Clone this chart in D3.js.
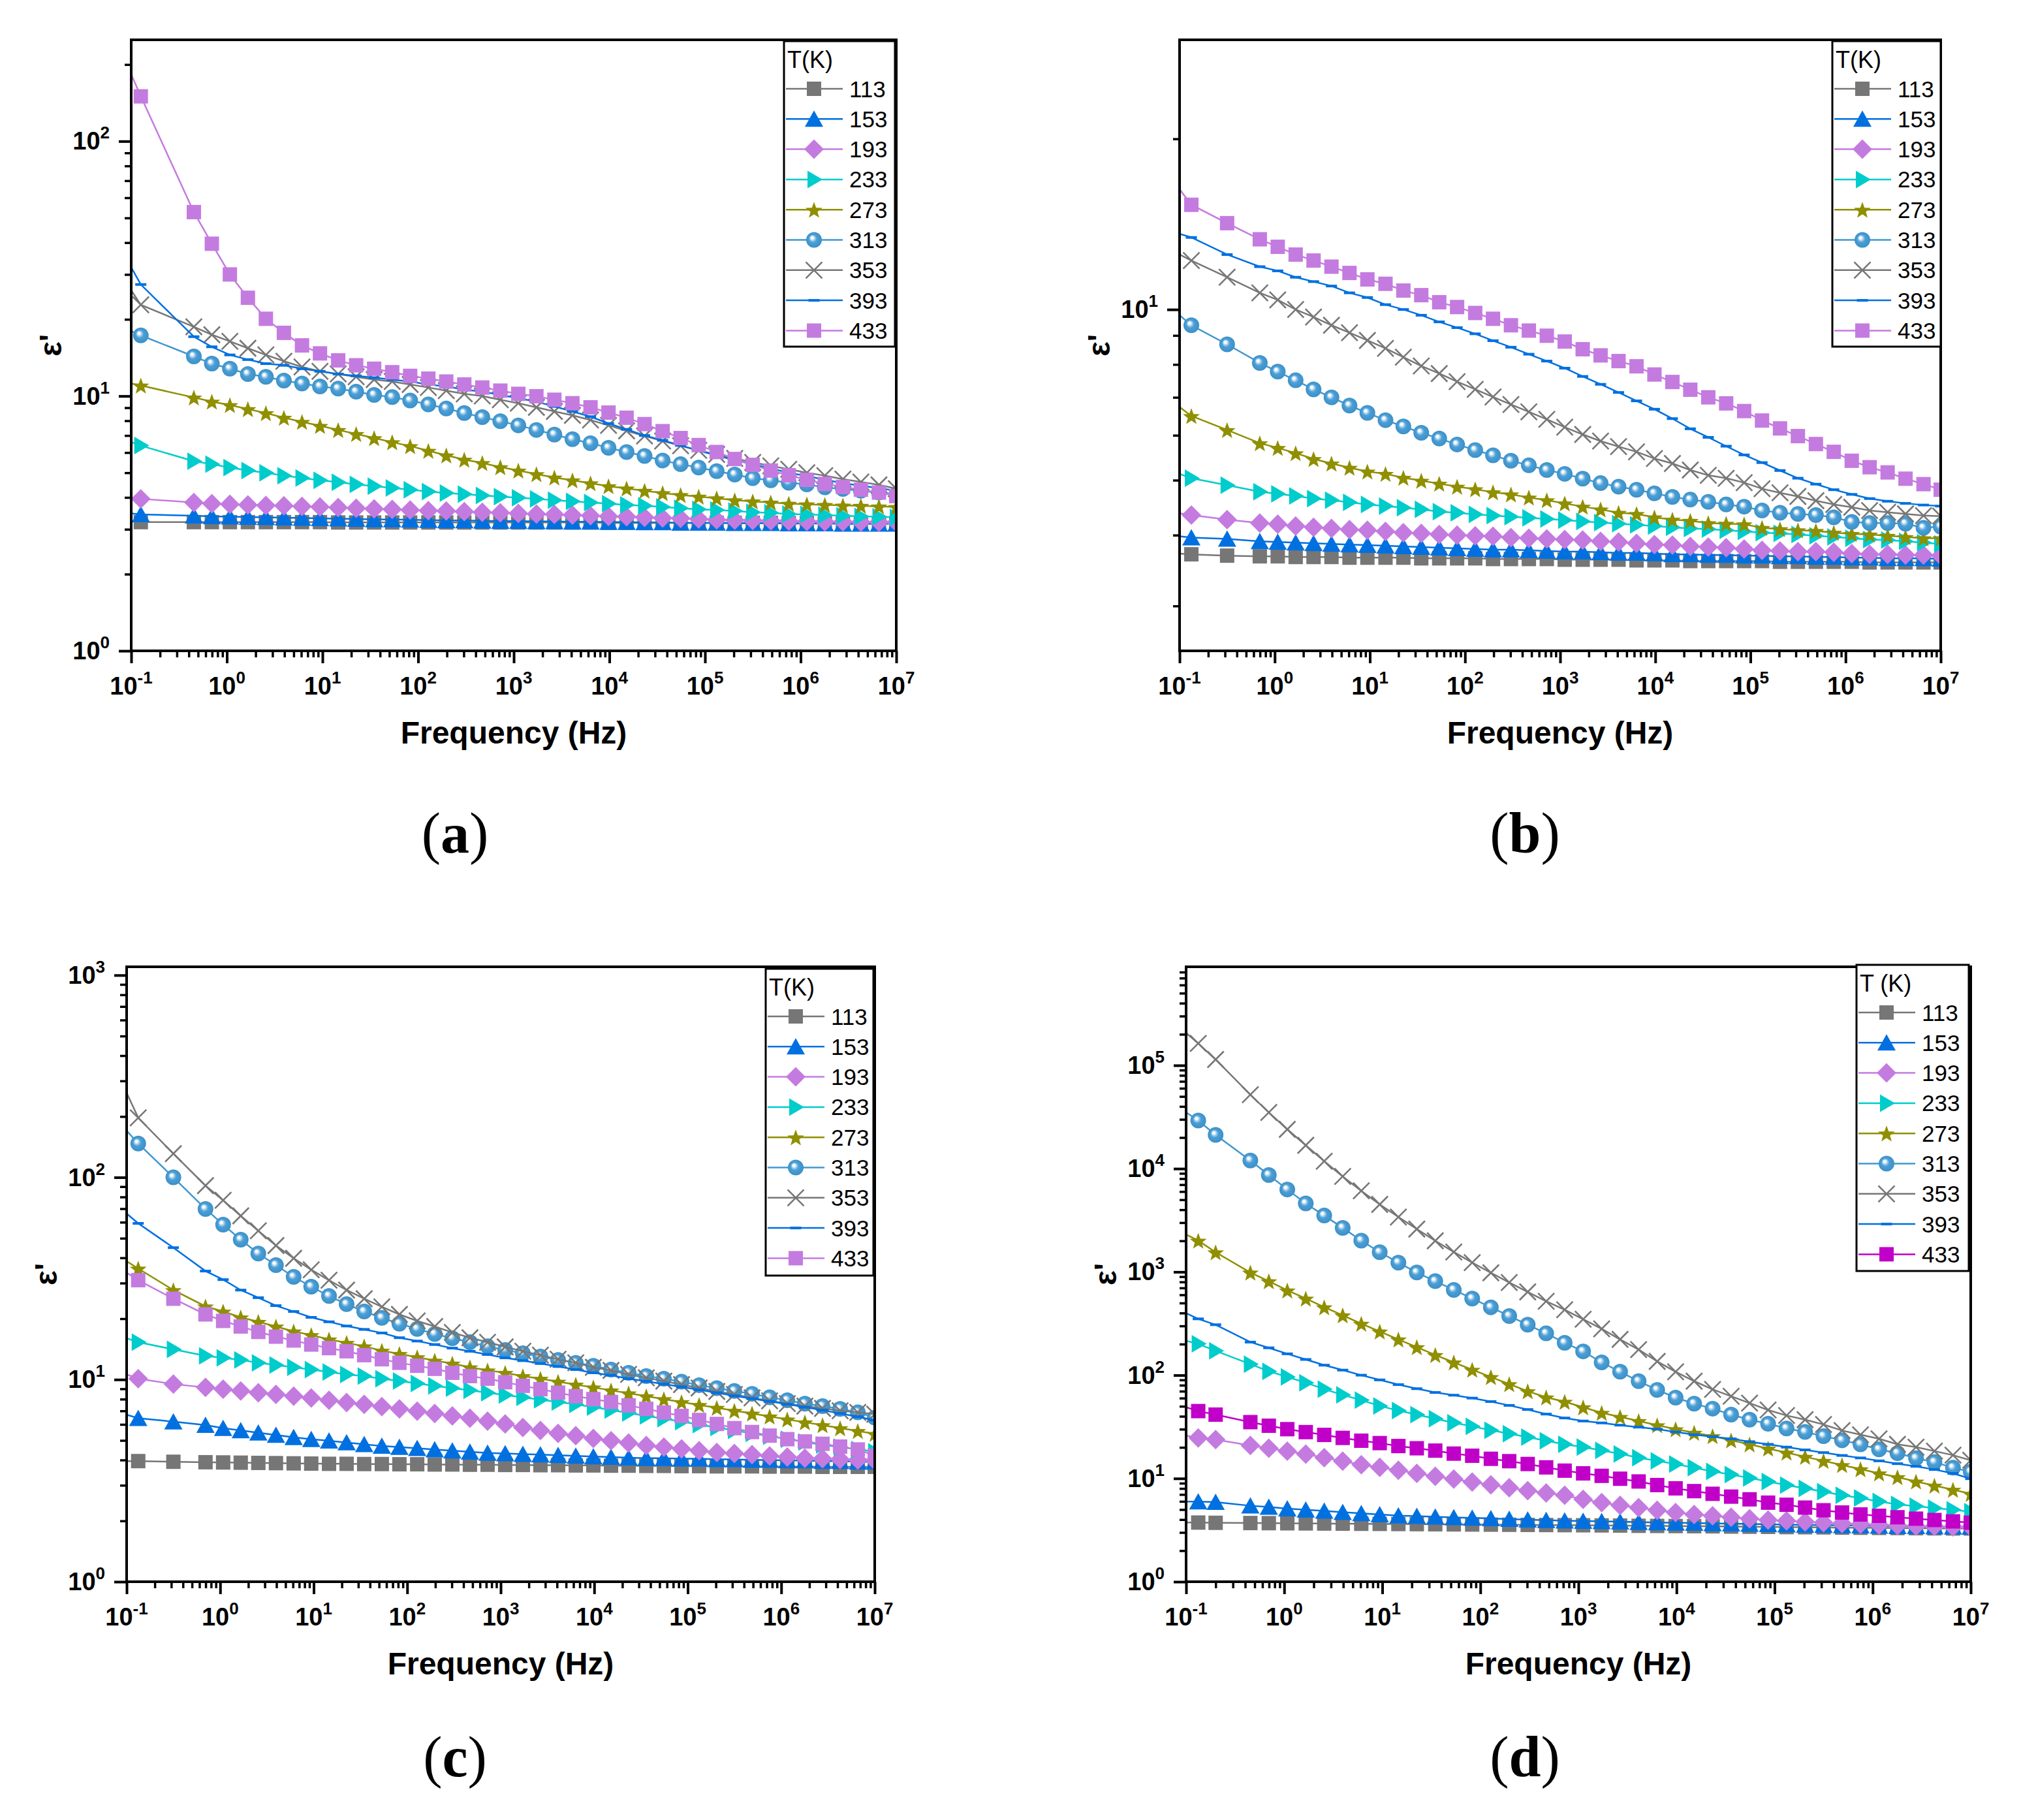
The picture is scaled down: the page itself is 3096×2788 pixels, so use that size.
<!DOCTYPE html>
<html>
<head>
<meta charset="utf-8">
<script src="https://cdn.jsdelivr.net/npm/d3@7"></script>
<style>
  body { margin: 0; background: #fff; }
  text { font-family: "Liberation Sans", Arial, sans-serif; }
</style>
</head>
<body>
<div id="chart"></div>
<script>
var width = 3096;
var height = 2788;

// temperatures (K) and the frequency points of each panel (Hz)
var temps = ["113", "153", "193", "233", "273", "313", "353", "393", "433"];

var freqA = [0.1, 0.126, 0.452, 0.697, 1.076, 1.66, 2.56, 3.95, 6.11, 9.42,
  14.6, 22.5, 34.7, 53.6, 82.6, 128, 197, 304, 469, 724,
  1117, 1726, 2661, 4111, 6353, 9795, 15136, 23335, 36058, 55590,
  85901, 132434, 204644, 315500, 487529, 751623, 1161449, 1790550, 2766942, 4265795,
  6591738, 10000000];

var freqBC = [0.1, 0.133, 0.316, 0.697, 1.076, 1.66, 2.56, 3.95, 6.11, 9.42,
  14.6, 22.5, 34.7, 53.6, 82.6, 128, 197, 304, 469, 724,
  1117, 1726, 2661, 4111, 6353, 9795, 15136, 23335, 36058, 55590,
  85901, 132434, 204644, 315500, 487529, 751623, 1161449, 1790550, 2766942, 4265795,
  6591738, 10000000];

var freqD = [0.1, 0.133, 0.2, 0.452, 0.697, 1.076, 1.66, 2.56, 3.95, 6.11,
  9.42, 14.6, 22.5, 34.7, 53.6, 82.6, 128, 197, 304, 469,
  724, 1117, 1726, 2661, 4111, 6353, 9795, 15136, 23335, 36058,
  55590, 85901, 132434, 204644, 315500, 487529, 751623, 1161449, 1790550, 2766942,
  4265795, 6591738, 10000000];

// panel (a)
var a113 = [3.22, 3.2, 3.2, 3.2, 3.2, 3.2, 3.2, 3.2, 3.2, 3.2,
  3.19, 3.19, 3.19, 3.19, 3.19, 3.19, 3.19, 3.19, 3.19, 3.19,
  3.19, 3.19, 3.19, 3.19, 3.19, 3.18, 3.18, 3.18, 3.18, 3.18,
  3.18, 3.18, 3.18, 3.18, 3.18, 3.17, 3.17, 3.17, 3.17, 3.17,
  3.17, 3.17];
var a153 = [3.46, 3.43, 3.39, 3.37, 3.36, 3.35, 3.34, 3.33, 3.32, 3.31,
  3.3, 3.29, 3.28, 3.28, 3.27, 3.26, 3.25, 3.25, 3.24, 3.23,
  3.23, 3.22, 3.22, 3.21, 3.21, 3.2, 3.2, 3.19, 3.19, 3.18,
  3.18, 3.18, 3.17, 3.17, 3.17, 3.16, 3.16, 3.16, 3.15, 3.15,
  3.15, 3.15];
var a193 = [4.0, 3.95, 3.82, 3.78, 3.76, 3.74, 3.72, 3.71, 3.69, 3.67,
  3.65, 3.63, 3.61, 3.59, 3.57, 3.55, 3.54, 3.52, 3.5, 3.48,
  3.46, 3.44, 3.43, 3.41, 3.39, 3.37, 3.36, 3.34, 3.32, 3.31,
  3.29, 3.27, 3.26, 3.25, 3.24, 3.23, 3.22, 3.21, 3.21, 3.2,
  3.2, 3.19];
var a233 = [6.6, 6.39, 5.55, 5.4, 5.24, 5.1, 5.0, 4.87, 4.77, 4.67,
  4.59, 4.5, 4.43, 4.36, 4.29, 4.22, 4.16, 4.12, 4.07, 4.03,
  3.99, 3.95, 3.9, 3.86, 3.82, 3.78, 3.74, 3.71, 3.67, 3.63,
  3.59, 3.57, 3.54, 3.5, 3.48, 3.44, 3.43, 3.41, 3.39, 3.37,
  3.36, 3.34];
var a273 = [11.2, 11.0, 9.87, 9.51, 9.22, 8.89, 8.57, 8.22, 7.92, 7.64,
  7.36, 7.1, 6.84, 6.59, 6.36, 6.1, 5.85, 5.63, 5.46, 5.26,
  5.1, 4.94, 4.79, 4.67, 4.55, 4.43, 4.34, 4.25, 4.16, 4.09,
  4.03, 3.97, 3.9, 3.86, 3.82, 3.78, 3.76, 3.74, 3.72, 3.71,
  3.69, 3.67];
var a313 = [18, 17.3, 14.3, 13.4, 12.8, 12.2, 11.9, 11.5, 11.2, 10.9,
  10.7, 10.4, 10.1, 9.9, 9.6, 9.27, 8.94, 8.57, 8.26, 7.96,
  7.67, 7.36, 7.06, 6.77, 6.53, 6.26, 6.03, 5.82, 5.58, 5.4,
  5.24, 5.07, 4.92, 4.76, 4.67, 4.57, 4.5, 4.38, 4.32, 4.25,
  4.18, 4.11];
var a353 = [26, 22.8, 18.7, 17.4, 16.4, 15.4, 14.5, 13.7, 13.0, 12.5,
  12.2, 11.9, 11.6, 11.4, 11.1, 10.8, 10.5, 10.2, 10.0, 9.67,
  9.37, 9.03, 8.7, 8.4, 8.05, 7.67, 7.3, 6.97, 6.66, 6.38,
  6.12, 5.9, 5.69, 5.49, 5.32, 5.16, 5.0, 4.87, 4.72, 4.6,
  4.48, 4.33];
var a393 = [32, 27.4, 17.1, 15.6, 14.5, 13.9, 13.4, 13.2, 12.8, 12.5,
  12.2, 12.0, 11.8, 11.6, 11.4, 11.1, 10.9, 10.6, 10.4, 10.1,
  9.8, 9.5, 9.1, 8.7, 8.3, 7.8, 7.4, 7.0, 6.7, 6.4,
  6.1, 5.85, 5.6, 5.4, 5.2, 5.0, 4.85, 4.7, 4.55, 4.45,
  4.35, 4.25];
var a433 = [183, 150, 52.7, 39.6, 30, 24.3, 20.1, 17.7, 15.8, 14.7,
  13.8, 13.2, 12.8, 12.4, 12.0, 11.7, 11.4, 11.1, 10.8, 10.5,
  10.2, 9.98, 9.67, 9.37, 9.03, 8.61, 8.22, 7.76, 7.28, 6.84,
  6.42, 6.03, 5.66, 5.37, 5.1, 4.89, 4.69, 4.52, 4.4, 4.29,
  4.18, 4.05];

// panel (b)
var b113 = [3.71, 3.7, 3.68, 3.67, 3.67, 3.66, 3.66, 3.66, 3.65, 3.65,
  3.65, 3.65, 3.64, 3.64, 3.64, 3.64, 3.63, 3.63, 3.63, 3.63,
  3.62, 3.62, 3.62, 3.62, 3.61, 3.61, 3.61, 3.6, 3.6, 3.6,
  3.6, 3.6, 3.59, 3.59, 3.59, 3.59, 3.59, 3.58, 3.58, 3.58,
  3.58, 3.58];
var b153 = [3.98, 3.96, 3.94, 3.9, 3.89, 3.88, 3.87, 3.86, 3.85, 3.84,
  3.83, 3.82, 3.81, 3.8, 3.79, 3.78, 3.77, 3.77, 3.76, 3.75,
  3.74, 3.74, 3.73, 3.72, 3.72, 3.71, 3.7, 3.7, 3.69, 3.69,
  3.68, 3.68, 3.67, 3.67, 3.66, 3.66, 3.65, 3.65, 3.64, 3.64,
  3.64, 3.63];
var b193 = [4.37, 4.34, 4.26, 4.2, 4.18, 4.15, 4.13, 4.11, 4.09, 4.08,
  4.06, 4.04, 4.03, 4.01, 4.0, 3.99, 3.98, 3.96, 3.95, 3.94,
  3.93, 3.92, 3.9, 3.89, 3.87, 3.85, 3.84, 3.82, 3.81, 3.8,
  3.78, 3.76, 3.75, 3.74, 3.74, 3.73, 3.71, 3.7, 3.7, 3.69,
  3.69, 3.68];
var b233 = [5.13, 5.04, 4.9, 4.77, 4.73, 4.69, 4.64, 4.61, 4.57, 4.53,
  4.5, 4.47, 4.44, 4.4, 4.38, 4.35, 4.33, 4.31, 4.29, 4.27,
  4.25, 4.23, 4.21, 4.19, 4.17, 4.15, 4.13, 4.11, 4.1, 4.08,
  4.06, 4.04, 4.03, 4.01, 3.99, 3.97, 3.95, 3.93, 3.92, 3.9,
  3.88, 3.86];
var b273 = [6.73, 6.49, 6.13, 5.81, 5.7, 5.58, 5.45, 5.35, 5.26, 5.18,
  5.13, 5.05, 4.99, 4.93, 4.87, 4.82, 4.76, 4.72, 4.66, 4.61,
  4.55, 4.49, 4.44, 4.38, 4.36, 4.3, 4.26, 4.24, 4.2, 4.19,
  4.18, 4.12, 4.1, 4.08, 4.07, 4.04, 4.02, 4.01, 3.99, 3.97,
  3.95, 3.95];
var b313 = [9.77, 9.38, 8.68, 8.05, 7.77, 7.5, 7.23, 7.0, 6.77, 6.57,
  6.38, 6.22, 6.06, 5.92, 5.78, 5.65, 5.53, 5.41, 5.31, 5.21,
  5.13, 5.03, 4.94, 4.87, 4.81, 4.74, 4.67, 4.62, 4.58, 4.53,
  4.49, 4.42, 4.38, 4.36, 4.34, 4.3, 4.22, 4.2, 4.2, 4.19,
  4.12, 4.14];
var b353 = [12.5, 12.2, 11.4, 10.7, 10.4, 10.0, 9.7, 9.38, 9.1, 8.82,
  8.54, 8.24, 7.95, 7.71, 7.46, 7.23, 7.01, 6.8, 6.6, 6.4,
  6.2, 6.02, 5.86, 5.73, 5.61, 5.46, 5.35, 5.21, 5.1, 5.04,
  4.95, 4.83, 4.75, 4.68, 4.6, 4.53, 4.48, 4.42, 4.39, 4.36,
  4.33, 4.32];
var b393 = [13.6, 13.4, 12.5, 11.9, 11.7, 11.4, 11.2, 11.0, 10.7, 10.5,
  10.2, 10.0, 9.77, 9.51, 9.29, 9.06, 8.81, 8.58, 8.34, 8.11,
  7.88, 7.62, 7.38, 7.14, 6.9, 6.67, 6.42, 6.16, 5.95, 5.74,
  5.54, 5.37, 5.2, 5.04, 4.92, 4.81, 4.72, 4.64, 4.59, 4.55,
  4.52, 4.5];
var b433 = [16.3, 15.3, 14.2, 13.3, 12.9, 12.5, 12.2, 11.9, 11.6, 11.3,
  11.1, 10.8, 10.6, 10.3, 10.1, 9.86, 9.63, 9.38, 9.18, 8.99,
  8.78, 8.51, 8.3, 8.11, 7.94, 7.68, 7.45, 7.22, 7.0, 6.83,
  6.62, 6.37, 6.17, 5.98, 5.79, 5.61, 5.41, 5.27, 5.16, 5.03,
  4.92, 4.81];

// panel (c)
var c113 = [3.95, 3.95, 3.92, 3.9, 3.89, 3.88, 3.87, 3.86, 3.85, 3.84,
  3.83, 3.83, 3.82, 3.82, 3.81, 3.81, 3.8, 3.8, 3.79, 3.79,
  3.78, 3.78, 3.77, 3.77, 3.76, 3.76, 3.75, 3.75, 3.74, 3.74,
  3.73, 3.73, 3.72, 3.72, 3.72, 3.71, 3.71, 3.71, 3.7, 3.7,
  3.7, 3.7];
var c153 = [6.7, 6.44, 6.19, 5.95, 5.75, 5.6, 5.46, 5.32, 5.18, 5.07,
  4.98, 4.88, 4.78, 4.69, 4.63, 4.57, 4.51, 4.45, 4.39, 4.33,
  4.31, 4.28, 4.25, 4.22, 4.19, 4.16, 4.14, 4.11, 4.08, 4.08,
  4.06, 4.06, 4.03, 4.03, 4.0, 4.0, 3.98, 3.98, 3.95, 3.95,
  3.92, 3.92];
var c193 = [10.6, 10.1, 9.5, 9.14, 8.96, 8.78, 8.61, 8.44, 8.27, 8.11,
  7.9, 7.69, 7.54, 7.35, 7.16, 6.97, 6.79, 6.61, 6.44, 6.23,
  6.03, 5.79, 5.6, 5.42, 5.28, 5.11, 4.98, 4.85, 4.72, 4.63,
  4.54, 4.45, 4.36, 4.31, 4.25, 4.19, 4.14, 4.08, 4.06, 4.03,
  4.0, 3.98];
var c233 = [16.0, 15.3, 14.1, 13.1, 12.8, 12.5, 12.1, 11.8, 11.5, 11.2,
  10.9, 10.6, 10.4, 10.1, 9.83, 9.57, 9.31, 9.07, 8.84, 8.61,
  8.38, 8.17, 7.95, 7.74, 7.54, 7.3, 7.06, 6.83, 6.61, 6.4,
  6.19, 5.99, 5.79, 5.6, 5.42, 5.25, 5.07, 4.91, 4.75, 4.63,
  4.51, 4.39];
var c273 = [38.5, 35.4, 27.7, 23.0, 21.7, 20.3, 19.3, 18.3, 17.3, 16.6,
  15.8, 15.2, 14.6, 13.9, 13.4, 12.9, 12.4, 12.0, 11.5, 11.1,
  10.8, 10.4, 10.1, 9.76, 9.44, 9.14, 8.84, 8.55, 8.27, 8.0,
  7.74, 7.49, 7.25, 7.01, 6.79, 6.57, 6.35, 6.15, 5.95, 5.75,
  5.57, 5.39];
var c313 = [170, 147, 100, 69.8, 58.4, 49.2, 42, 36.8, 32.2, 28.8,
  25.9, 23.6, 21.7, 20.2, 18.9, 17.8, 16.8, 16.0, 15.3, 14.6,
  14.0, 13.5, 13.0, 12.5, 12.1, 11.7, 11.2, 10.8, 10.4, 10.1,
  9.76, 9.38, 9.07, 8.78, 8.5, 8.17, 7.9, 7.6, 7.39, 7.16,
  6.88, 6.48];
var c353 = [262, 197, 131, 91, 77, 64.5, 54.4, 46, 39.8, 34.9,
  31, 27.7, 25.1, 22.9, 21, 19.5, 18.3, 17.1, 16.1, 15.3,
  14.5, 13.8, 13.2, 12.6, 12.1, 11.5, 11.1, 10.6, 10.2, 9.82,
  9.44, 9.08, 8.73, 8.44, 8.11, 7.85, 7.6, 7.39, 7.2, 7.01,
  6.88, 6.74];
var c393 = [66.2, 59.2, 44.9, 34.4, 31.2, 27.7, 25.4, 23.2, 21.7, 20.3,
  19.3, 18.4, 17.7, 17.0, 16.1, 15.5, 14.9, 14.3, 13.8, 13.3,
  12.8, 12.4, 12.0, 11.6, 11.2, 10.8, 10.5, 10.1, 9.8, 9.5,
  9.2, 8.9, 8.6, 8.3, 8.05, 7.8, 7.55, 7.3, 7.05, 6.8,
  6.55, 6.3];
var c433 = [33.8, 31.0, 25.1, 21.0, 19.5, 18.3, 17.2, 16.3, 15.6, 14.9,
  14.3, 13.8, 13.2, 12.6, 12.1, 11.7, 11.3, 10.8, 10.4, 10.1,
  9.7, 9.31, 8.96, 8.61, 8.27, 8.0, 7.74, 7.45, 7.16, 6.87,
  6.61, 6.31, 6.03, 5.75, 5.5, 5.28, 5.07, 4.94, 4.81, 4.66,
  4.51, 4.2];

// panel (d)
var d113 = [3.74, 3.74, 3.72, 3.7, 3.69, 3.68, 3.67, 3.66, 3.65, 3.64,
  3.63, 3.62, 3.61, 3.6, 3.59, 3.58, 3.57, 3.56, 3.55, 3.54,
  3.53, 3.52, 3.51, 3.5, 3.48, 3.47, 3.46, 3.45, 3.44, 3.42,
  3.41, 3.4, 3.38, 3.37, 3.36, 3.34, 3.33, 3.32, 3.31, 3.3,
  3.29, 3.28, 3.28];
var d153 = [5.96, 5.96, 5.9, 5.44, 5.3, 5.1, 4.97, 4.85, 4.72, 4.6,
  4.48, 4.37, 4.32, 4.26, 4.2, 4.15, 4.1, 4.04, 3.99, 3.94,
  3.9, 3.87, 3.84, 3.81, 3.78, 3.75, 3.72, 3.7, 3.67, 3.65,
  3.62, 3.6, 3.57, 3.55, 3.53, 3.51, 3.49, 3.47, 3.45, 3.44,
  3.42, 3.41, 3.4];
var d193 = [26, 24.7, 23.8, 20.9, 19.6, 18.4, 17.2, 15.9, 14.7, 13.6,
  12.8, 12.0, 11.2, 10.5, 9.87, 9.25, 8.67, 8.13, 7.62, 7.24,
  6.88, 6.28, 5.83, 5.49, 5.22, 4.92, 4.68, 4.48, 4.35, 4.21,
  4.08, 3.96, 3.89, 3.8, 3.73, 3.66, 3.61, 3.55, 3.51, 3.46,
  3.45, 3.4, 3.38];
var d233 = [215, 201, 172, 128, 109, 96.2, 84.5, 73.3, 64.4, 57.3,
  50.4, 45.4, 41.5, 37.9, 34.6, 32, 29.3, 27.1, 25.1, 23.2,
  21.4, 20.1, 18.7, 17.3, 15.9, 14.8, 13.8, 12.7, 11.7, 10.9,
  10.1, 9.35, 8.63, 8.02, 7.45, 6.88, 6.47, 5.98, 5.62, 5.39,
  5.16, 4.97, 4.77];
var d273 = [2300, 2010, 1550, 987, 813, 662, 552, 455, 380, 315,
  265, 222, 187, 157, 133, 113, 96, 82, 70, 61,
  55.3, 48.9, 43.2, 39.5, 36, 32.8, 30, 27.7, 25.7, 23.4,
  21.4, 19.5, 17.8, 16.2, 14.8, 13.5, 12.3, 11.2, 10.3, 9.35,
  8.53, 7.78, 7.1];
var d313 = [35000, 29200, 21200, 12000, 8670, 6280, 4600, 3510, 2670, 2010,
  1550, 1230, 987, 813, 670, 552, 454, 374, 308, 254,
  206, 170, 133, 108, 87.5, 72, 60.6, 53, 47.4, 41.5,
  37.1, 33.9, 30.5, 28.2, 25.7, 23.4, 21.4, 19.1, 17.6, 15.7,
  14.4, 12.7, 11.6];
var d353 = [206000, 163000, 114000, 52000, 35000, 24000, 16800, 11800, 8400, 6100,
  4500, 3400, 2600, 2000, 1560, 1230, 980, 790, 640, 520,
  430, 348, 281, 222, 177, 136, 108, 87.5, 72.8, 62.5,
  53.6, 46, 40.7, 37.1, 33.3, 29.1, 26.5, 24.2, 21.4, 20.1,
  18.4, 16.8, 15.0];
var d393 = [399, 351, 308, 209, 184, 161, 142, 125, 112, 100,
  90, 81, 74, 68, 64, 60, 55.5, 51, 46.5, 42,
  38.5, 36, 34.5, 32.8, 31.4, 30, 28.2, 26.5, 25.4, 24.2,
  22.7, 21.4, 20.1, 18.9, 17.8, 16.7, 15.8, 14.8, 13.9, 13.1,
  12.2, 11.2, 9.94];
var d433 = [49, 44.9, 41.5, 35.1, 32.4, 30, 28.1, 26.4, 24.7, 23.2,
  22, 20.6, 19.6, 18.6, 17.4, 16.6, 15.5, 14.7, 13.8, 12.8,
  11.9, 11.2, 10.6, 9.94, 9.35, 8.63, 8.02, 7.54, 7.1, 6.67,
  6.28, 5.83, 5.56, 5.22, 4.92, 4.68, 4.48, 4.35, 4.21, 4.08,
  3.96, 3.84, 3.73];

var colors = ["#767676", "#0070e0", "#c47be0", "#00cccc", "#8f8f00", "#3f98d0", "#777777", "#0070e0", "#c47be0"];
var shapes = ["square", "triangle", "diamond", "rtriangle", "star", "ball", "cross", "dash", "square"];

var panels = [
  { name: "a", freq: freqA, series: [a113, a153, a193, a233, a273, a313, a353, a393, a433],
    yDomain: [1, 250], left: 201, right: 1373, top: 61, bottom: 997,
    legend: { x: 1201, y: 63, w: 170, h: 468, title: "T(K)" }, label: { x: 697, y: 1306 } },
  { name: "b", freq: freqBC, series: [b113, b153, b193, b233, b273, b313, b353, b393, b433],
    yDomain: [2.5, 29.9], left: 1807, right: 2973, top: 61, bottom: 997,
    legend: { x: 2807, y: 63, w: 166, h: 468, title: "T(K)" }, label: { x: 2336, y: 1306 } },
  { name: "c", freq: freqBC, series: [c113, c153, c193, c233, c273, c313, c353, c393, c433],
    yDomain: [1, 1100], left: 194, right: 1340, top: 1481, bottom: 2423,
    legend: { x: 1173, y: 1484, w: 165, h: 470, title: "T(K)" }, label: { x: 697, y: 2721 } },
  { name: "d", freq: freqD, series: [d113, d153, d193, d233, d273, d313, d353, d393, d433],
    yDomain: [1, 900000], left: 1817, right: 3019, top: 1481, bottom: 2423,
    legend: { x: 2844, y: 1478, w: 172, h: 469, title: "T (K)" }, label: { x: 2336, y: 2721 },
    lastColor: "#c000c8" }
];

var svg = d3
  .select("#chart")
  .append("svg")
  .attr("width", width)
  .attr("height", height)
  .style("background", "#fff");

var defs = svg.append("defs");
var grad = defs.append("radialGradient").attr("id", "ball").attr("cx", "50%").attr("cy", "50%").attr("r", "50%").attr("fx", "36%").attr("fy", "34%");
grad.append("stop").attr("offset", "0%").attr("stop-color", "#ffffff");
grad.append("stop").attr("offset", "14%").attr("stop-color", "#ffffff");
grad.append("stop").attr("offset", "30%").attr("stop-color", "#a9d2ee");
grad.append("stop").attr("offset", "50%").attr("stop-color", "#4c9fd5");
grad.append("stop").attr("offset", "100%").attr("stop-color", "#3a90c8");

function starPath(ro, ri) {
  var p = [];
  for (var k = 0; k < 10; k++) {
    var r = k % 2 == 0 ? ro : ri;
    var a = -Math.PI / 2 + (k * Math.PI) / 5;
    p.push([r * Math.cos(a), r * Math.sin(a) + 1.5]);
  }
  return "M" + p.map((q) => q[0].toFixed(2) + "," + q[1].toFixed(2)).join("L") + "Z";
}

function drawMarker(g, shape, color) {
  if (shape == "square") {
    g.append("rect").attr("x", -11).attr("y", -11).attr("width", 22).attr("height", 22).attr("fill", color);
  } else if (shape == "triangle") {
    g.append("path").attr("d", "M0,-13L14,12L-14,12Z").attr("fill", color);
  } else if (shape == "diamond") {
    g.append("path").attr("d", "M0,-15L15,0L0,15L-15,0Z").attr("fill", color);
  } else if (shape == "rtriangle") {
    g.append("path").attr("d", "M-10,-13.5L13,0L-10,13.5Z").attr("fill", color);
  } else if (shape == "star") {
    g.append("path").attr("d", starPath(13.5, 5.6)).attr("fill", color);
  } else if (shape == "ball") {
    g.append("circle").attr("r", 12).attr("fill", "url(#ball)");
  } else if (shape == "cross") {
    g.append("path").attr("d", "M-12.5,-12.5L12.5,12.5M12.5,-12.5L-12.5,12.5")
      .attr("stroke", color).attr("stroke-width", 2.6).attr("fill", "none");
  } else if (shape == "dash") {
    g.append("rect").attr("x", -8.5).attr("y", -2).attr("width", 17).attr("height", 4).attr("fill", color);
  }
}

function powLabel(t, exp, big, small) {
  t.append("tspan").text("10");
  t.append("tspan").attr("dy", -17).attr("font-size", small).text(exp);
}

panels.forEach(function (p) {
  var x = d3.scaleLog().domain([0.1, 1e7]).range([p.left, p.right]);
  var y = d3.scaleLog().domain(p.yDomain).range([p.bottom, p.top]);
  var g = svg.append("g").attr("class", "panel-" + p.name);

  // log ticks: decades and 2..9 minors
  var xMajor = [], xMinor = [], yMajor = [], yMinor = [];
  for (var e = -1; e <= 7; e++) {
    xMajor.push(Math.pow(10, e));
    if (e < 7) for (var k = 2; k < 10; k++) xMinor.push(k * Math.pow(10, e));
  }
  for (var e = -1; e <= 6; e++) {
    var v = Math.pow(10, e);
    if (v >= p.yDomain[0] * 0.999 && v <= p.yDomain[1]) yMajor.push(v);
    for (var k = 2; k < 10; k++) {
      var m = k * v;
      if (m > p.yDomain[0] && m < p.yDomain[1]) yMinor.push(m);
    }
  }

  g.append("g")
    .attr("transform", `translate(0, ${p.bottom})`)
    .call(d3.axisBottom(x).tickValues(xMinor).tickSize(10).tickSizeOuter(0).tickFormat(""))
    .call((a) => a.select(".domain").remove())
    .selectAll("line").attr("stroke-width", 3.5);
  g.append("g")
    .attr("transform", `translate(0, ${p.bottom})`)
    .call(d3.axisBottom(x).tickValues(xMajor).tickSize(19).tickSizeOuter(0).tickFormat(""))
    .call((a) => a.select(".domain").remove())
    .selectAll("line").attr("stroke-width", 4);
  g.append("g")
    .attr("transform", `translate(${p.left}, 0)`)
    .call(d3.axisLeft(y).tickValues(yMinor).tickSize(10).tickSizeOuter(0).tickFormat(""))
    .call((a) => a.select(".domain").remove())
    .selectAll("line").attr("stroke-width", 3.5);
  g.append("g")
    .attr("transform", `translate(${p.left}, 0)`)
    .call(d3.axisLeft(y).tickValues(yMajor).tickSize(19).tickSizeOuter(0).tickFormat(""))
    .call((a) => a.select(".domain").remove())
    .selectAll("line").attr("stroke-width", 4);

  // tick labels 10^n
  xMajor.forEach(function (v) {
    var t = g.append("text")
      .attr("x", x(v))
      .attr("y", p.bottom + 67)
      .attr("text-anchor", "middle")
      .attr("font-size", 38)
      .attr("font-weight", "bold");
    powLabel(t, String(Math.round(Math.log10(v))), 38, 26);
  });
  yMajor.forEach(function (v) {
    var t = g.append("text")
      .attr("x", p.left - 33)
      .attr("y", y(v) + 13)
      .attr("text-anchor", "end")
      .attr("font-size", 38)
      .attr("font-weight", "bold");
    powLabel(t, String(Math.round(Math.log10(v))), 38, 26);
  });

  g.append("text")
    .attr("x", (p.left + p.right) / 2)
    .attr("y", p.bottom + 142)
    .attr("text-anchor", "middle")
    .attr("font-size", 48)
    .attr("font-weight", "bold")
    .text("Frequency (Hz)");

  g.append("text")
    .attr("transform", `translate(${p.left - 107}, ${(p.top + p.bottom) / 2}) rotate(-90)`)
    .attr("text-anchor", "middle")
    .attr("font-size", 48)
    .attr("font-weight", "bold")
    .text("ε'");

  // data
  g.append("clipPath").attr("id", "clip-" + p.name)
    .append("rect")
    .attr("x", p.left).attr("y", p.top)
    .attr("width", p.right - p.left).attr("height", p.bottom - p.top);

  var plot = g.append("g").attr("clip-path", "url(#clip-" + p.name + ")");
  var line = d3.line().x((d) => x(d[0])).y((d) => y(d[1]));

  p.series.forEach(function (vals, i) {
    var color = i == 8 && p.lastColor ? p.lastColor : colors[i];
    var pts = vals.map((v, j) => [p.freq[j], v]);
    plot.append("path")
      .attr("d", line(pts))
      .attr("fill", "none")
      .attr("stroke", color)
      .attr("stroke-width", 2.5);
    pts.slice(1).forEach(function (d) {
      var mg = plot.append("g").attr("transform", `translate(${x(d[0])}, ${y(d[1])})`);
      drawMarker(mg, shapes[i], color);
    });
  });

  // frame
  g.append("rect")
    .attr("x", p.left).attr("y", p.top)
    .attr("width", p.right - p.left).attr("height", p.bottom - p.top)
    .attr("fill", "none").attr("stroke", "#000").attr("stroke-width", 4);

  // legend
  var L = p.legend;
  var lg = g.append("g");
  lg.append("rect")
    .attr("x", L.x).attr("y", L.y).attr("width", L.w).attr("height", L.h)
    .attr("fill", "#fff").attr("stroke", "#000").attr("stroke-width", 3);
  lg.append("text")
    .attr("x", L.x + 5).attr("y", L.y + 41)
    .attr("font-size", 36)
    .text(L.title);
  temps.forEach(function (tk, i) {
    var color = i == 8 && p.lastColor ? p.lastColor : colors[i];
    var cy = L.y + 73 + i * 46.3;
    lg.append("line")
      .attr("x1", L.x + 3).attr("x2", L.x + 90)
      .attr("y1", cy).attr("y2", cy)
      .attr("stroke", color).attr("stroke-width", 2.5);
    drawMarker(lg.append("g").attr("transform", `translate(${L.x + 46}, ${cy})`), shapes[i], color);
    lg.append("text")
      .attr("x", L.x + 100).attr("y", cy + 12.5)
      .attr("font-size", 35)
      .text(tk);
  });

  // panel label
  var lab = svg.append("text")
    .attr("x", p.label.x).attr("y", p.label.y)
    .attr("text-anchor", "middle")
    .attr("font-family", "Liberation Serif, serif")
    .attr("font-size", 88)
    .style("font-family", "'Liberation Serif', serif");
  lab.append("tspan").text("(");
  lab.append("tspan").attr("font-weight", "bold").text(p.name);
  lab.append("tspan").text(")");
});
</script>
</body>
</html>
